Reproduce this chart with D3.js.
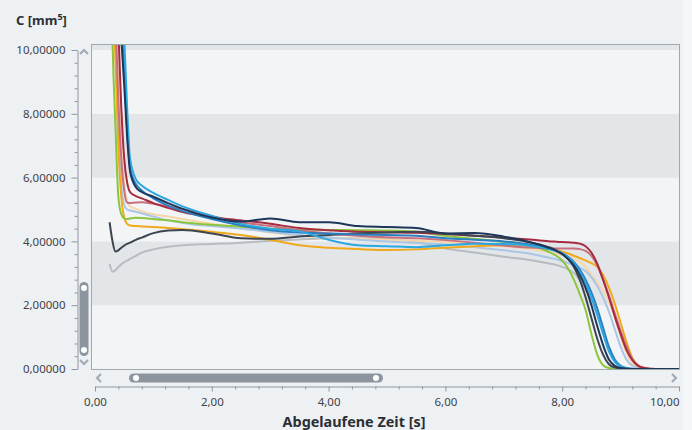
<!DOCTYPE html>
<html>
<head>
<meta charset="utf-8">
<script src="https://d3js.org/d3.v7.min.js"></script>
<style>
  body { margin: 0; background: #eef1f4; }
  svg { display: block; font-family: "Noto Sans", sans-serif; }
</style>
</head>
<body>
<script>
// Zeitpunkte (s)
var zeit = [0.25,0.3,0.35,0.4,0.45,0.5,0.55,0.6,0.7,0.8,1.0,1.25,1.5,
  2.0,2.5,3.0,3.5,4.0,4.5,5.0,5.5,6.0,6.5,7.0,7.5,
  7.8,7.9,8.0,8.1,8.2,8.3,8.4,8.5,8.6,8.7,8.8,8.9,9.0,9.1,9.2,9.3,9.4,9.5,
  9.7,10.0];

// Messreihen C [mm5]
var grau = [3.3,3.05,3.1,3.2,3.28,3.35,3.4,3.45,3.55,3.65,3.75,3.83,3.88,
  3.92,3.96,4.02,4.06,4.1,4.1,4.08,3.98,3.78,3.65,3.52,3.4,
  3.3,3.26,3.2,3.12,3.0,2.8,2.5,2.15,1.7,1.15,0.6,0.25,0.08,0.02,0,0,0,0,
  0,0];
var pfirsich = [20,16,12,9.2,7.0,5.8,5.25,5.1,5.02,4.95,4.85,4.78,4.7,
  4.55,4.42,4.28,4.18,4.12,4.08,4.05,4.02,3.98,3.92,3.85,3.75,
  3.65,3.62,3.58,3.52,3.45,3.35,3.2,2.95,2.7,2.45,2.1,1.6,1.0,0.5,0.18,0.05,0.01,0,
  0,0];
var stahlblau = [19,14,10.2,7.4,5.8,5.15,5.0,4.97,4.93,4.88,4.78,4.66,4.58,
  4.48,4.4,4.3,4.2,4.12,4.05,4.0,3.95,3.9,3.82,3.72,3.6,
  3.48,3.44,3.38,3.32,3.25,3.18,3.07,2.88,2.6,2.25,1.8,1.25,0.7,0.3,0.1,0.03,0.01,0,
  0,0];
var orange = [18,13,9.6,7.0,5.4,4.75,4.55,4.5,4.48,4.47,4.45,4.42,4.38,
  4.3,4.2,4.05,3.88,3.8,3.76,3.73,3.75,3.8,3.85,3.88,3.85,
  3.75,3.72,3.68,3.62,3.55,3.48,3.4,3.32,3.2,2.95,2.55,2.05,1.45,0.85,0.35,0.1,0.02,0,
  0,0];
var gruen = [16,10.3,7.6,5.4,4.85,4.72,4.7,4.72,4.74,4.73,4.7,4.66,4.6,
  4.52,4.46,4.4,4.37,4.36,4.35,4.34,4.3,4.17,4.08,3.98,3.85,
  3.65,3.55,3.4,3.15,2.8,2.35,1.85,1.1,0.45,0.12,0.03,0.01,0,0,0,0,0,0,
  0,0];
var rosa = [18,14,11,8.4,6.6,5.6,5.22,5.2,5.22,5.23,5.18,5.1,5.02,
  4.8,4.6,4.48,4.35,4.25,4.18,4.13,4.1,4.04,3.96,3.87,3.8,
  3.78,3.78,3.78,3.78,3.78,3.76,3.7,3.55,3.25,2.8,2.3,1.75,1.2,0.7,0.32,0.12,0.04,0.01,
  0,0];
var weinrot = [22,17,13.5,10.6,8.2,6.6,5.85,5.55,5.42,5.35,5.2,5.05,4.92,
  4.76,4.66,4.55,4.42,4.35,4.3,4.29,4.27,4.23,4.18,4.12,4.05,
  4.0,3.99,3.98,3.97,3.96,3.93,3.85,3.65,3.3,2.8,2.25,1.65,1.1,0.6,0.28,0.1,0.03,0.01,
  0,0];
var anthrazit = [4.6,4.0,3.68,3.72,3.8,3.87,3.92,3.96,4.05,4.12,4.26,4.34,4.36,
  4.25,4.1,4.08,4.15,4.2,4.25,4.28,4.3,4.25,4.18,4.1,3.95,
  3.8,3.72,3.62,3.45,3.2,2.8,2.25,1.6,0.95,0.45,0.15,0.05,0.01,0,0,0,0,0,
  0,0];
var blau = [26,22,18,14.5,11.8,9.4,7.5,6.3,5.8,5.6,5.35,5.12,4.95,
  4.7,4.5,4.35,4.28,4.25,4.22,4.2,4.18,4.1,4.05,4.0,3.88,
  3.75,3.7,3.63,3.52,3.36,3.12,2.8,2.4,1.9,1.3,0.7,0.3,0.1,0.03,0.01,0,0,0,
  0,0];
var hellblau = [28,24,20,16,13,10.4,8.2,6.6,5.95,5.75,5.52,5.3,5.1,
  4.8,4.55,4.4,4.32,4.05,3.88,3.85,3.82,3.88,3.93,3.92,3.85,
  3.75,3.7,3.62,3.5,3.32,3.05,2.7,2.25,1.7,1.1,0.55,0.22,0.08,0.02,0,0,0,0,
  0,0];
var dunkelblau = [24,20,16,12.5,10.4,8.9,7.3,6.2,5.7,5.55,5.4,5.2,5.02,
  4.75,4.62,4.72,4.6,4.6,4.48,4.45,4.42,4.25,4.26,4.15,3.95,
  3.78,3.7,3.6,3.45,3.25,2.95,2.55,2.0,1.35,0.75,0.3,0.1,0.03,0.01,0,0,0,0,
  0,0];

var reihen = [
  {werte: grau, farbe: "#b8bbbf"},
  {werte: pfirsich, farbe: "#f7d6a8"},
  {werte: stahlblau, farbe: "#a9c6e6"},
  {werte: orange, farbe: "#f0a91c"},
  {werte: gruen, farbe: "#8cc63e"},
  {werte: rosa, farbe: "#c9707f"},
  {werte: weinrot, farbe: "#a52b40"},
  {werte: anthrazit, farbe: "#3c4651"},
  {werte: blau, farbe: "#2b7fc0"},
  {werte: hellblau, farbe: "#2aa8df"},
  {werte: dunkelblau, farbe: "#1d3659"}
];

var xTicks = [0, 2, 4, 6, 8, 10];
var yTicks = [0, 2, 4, 6, 8, 10];

var w = 692, h = 430;
var rahmen = {l: 91, r: 680, t: 44, b: 369};

var x = d3.scaleLinear().domain([0, 10]).range([95, 679]);
var y = d3.scaleLinear().domain([0, 10]).range([369, 50]);
var yMax = y.invert(rahmen.t);

var svg = d3.select("body").append("svg").attr("width", w).attr("height", h);

svg.append("rect").attr("width", w).attr("height", h).attr("fill", "#eef1f4");
svg.append("rect").attr("x", 683).attr("y", 0).attr("width", 9).attr("height", h).attr("fill", "#f4f6f8");

// Baender im Plotbereich
var baender = [[0, 2], [2, 4], [4, 6], [6, 8], [8, 10], [10, yMax]];
svg.selectAll("rect.band")
  .data(baender)
  .enter()
  .append("rect")
  .attr("class", "band")
  .attr("x", rahmen.l)
  .attr("width", rahmen.r - rahmen.l)
  .attr("y", function(d){ return y(d[1]); })
  .attr("height", function(d){ return y(d[0]) - y(d[1]); })
  .attr("fill", function(d, i){ return i % 2 == 1 ? "#e3e6e9" : "#f2f4f6"; });

svg.append("clipPath").attr("id", "clip")
  .append("rect")
  .attr("x", rahmen.l).attr("y", rahmen.t)
  .attr("width", rahmen.r - rahmen.l).attr("height", rahmen.b - rahmen.t + 1);

var linie = d3.line()
  .defined(function(d){ return d != null; })
  .x(function(d, i){ return x(zeit[i]); })
  .y(function(d){ return y(d); })
  .curve(d3.curveMonotoneX);

svg.append("g").attr("clip-path", "url(#clip)")
  .selectAll("path")
  .data(reihen)
  .enter()
  .append("path")
  .attr("d", function(d){ return linie(d.werte); })
  .attr("fill", "none")
  .attr("stroke", function(d){ return d.farbe; })
  .attr("stroke-width", 2)
  .attr("stroke-linejoin", "round");

// Rahmen
svg.append("rect")
  .attr("x", rahmen.l + 0.5).attr("y", rahmen.t + 0.5)
  .attr("width", rahmen.r - rahmen.l - 1).attr("height", rahmen.b - rahmen.t)
  .attr("fill", "none").attr("stroke", "#a3a8ad");

var komma = function(n){ return function(d){ return d3.format("." + n + "f")(d).replace(".", ","); }; };

// Y-Achse
var nebenY = d3.range(0, 10.01, 0.4).filter(function(d){ return Math.abs(d / 2 - Math.round(d / 2)) > 0.01; });
var yAchse = svg.append("g").attr("transform", "translate(77.5,0)")
  .call(d3.axisLeft(y).tickValues(yTicks).tickFormat(komma(5)).tickSize(6).tickSizeOuter(0).tickPadding(6));
svg.append("g").attr("transform", "translate(77.5,0)")
  .call(d3.axisLeft(y).tickValues(nebenY).tickFormat("").tickSize(3).tickSizeOuter(0))
  .select(".domain").remove();

// X-Achse
var nebenX = d3.range(0, 10.01, 0.4).filter(function(d){ return Math.abs(d / 2 - Math.round(d / 2)) > 0.01; });
var xAchse = svg.append("g").attr("transform", "translate(0,386.5)")
  .call(d3.axisBottom(x).tickValues(xTicks).tickFormat(komma(2)).tickSize(5).tickSizeOuter(0).tickPadding(6));
xAchse.selectAll(".tick text").filter(function(d){ return d == 10; }).attr("text-anchor", "end").attr("dx", 0);
svg.append("g").attr("transform", "translate(0,386.5)")
  .call(d3.axisBottom(x).tickValues(nebenX).tickFormat("").tickSize(3).tickSizeOuter(0))
  .select(".domain").remove();

svg.selectAll(".domain, .tick line").attr("stroke", "#8f969d");
svg.selectAll(".tick text").attr("fill", "#3f4347").attr("font-size", "11.5px").attr("font-family", "Noto Sans, sans-serif");

// Bildlaufleisten
var grauLeiste = "#8c959e";
svg.append("rect").attr("x", 129).attr("y", 373.5).attr("width", 254).attr("height", 9).attr("rx", 4.5).attr("fill", grauLeiste);
svg.append("circle").attr("cx", 136).attr("cy", 378).attr("r", 3).attr("fill", "#fff");
svg.append("circle").attr("cx", 376).attr("cy", 378).attr("r", 3).attr("fill", "#fff");
svg.append("rect").attr("x", 79.5).attr("y", 282).attr("width", 9).attr("height", 74).attr("rx", 4.5).attr("fill", grauLeiste);
svg.append("circle").attr("cx", 84).attr("cy", 288).attr("r", 3).attr("fill", "#fff");
svg.append("circle").attr("cx", 84).attr("cy", 350).attr("r", 3).attr("fill", "#fff");

var pfeile = [
  [[80, 54], [84, 50], [88, 54]],
  [[80, 360], [84, 364], [88, 360]],
  [[101, 374], [97, 378], [101, 382]],
  [[672, 374], [676, 378], [672, 382]]
];
svg.selectAll("polyline")
  .data(pfeile)
  .enter()
  .append("polyline")
  .attr("points", function(d){ return d.join(" "); })
  .attr("fill", "none")
  .attr("stroke", "#a3abb3")
  .attr("stroke-width", 2.2);

// Titel
var yTitel = svg.append("text").attr("x", 16).attr("y", 25)
  .attr("font-size", "13px").attr("font-weight", "bold").attr("fill", "#2b2f33");
yTitel.append("tspan").text("C [mm");
yTitel.append("tspan").attr("dy", -5).attr("font-size", "9px").text("5");
yTitel.append("tspan").attr("dy", 5).text("]");

svg.append("text").attr("x", 354).attr("y", 427)
  .attr("text-anchor", "middle")
  .attr("font-size", "14.4px").attr("font-weight", "bold").attr("fill", "#2b2f33")
  .text("Abgelaufene Zeit [s]");
</script>
</body>
</html>
